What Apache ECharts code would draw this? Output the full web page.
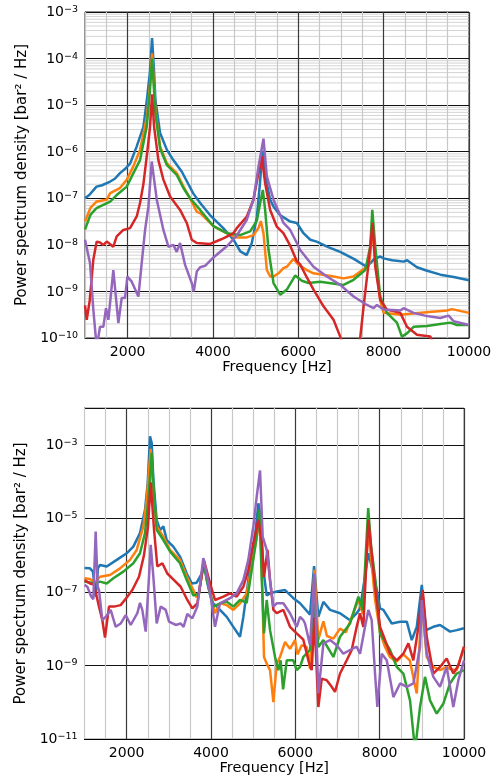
<!DOCTYPE html>
<html>
<head>
<meta charset="utf-8">
<script src="https://cdn.jsdelivr.net/npm/echarts@6/dist/echarts.min.js"></script>
<style>
  html, body { margin: 0; padding: 0; background: #fff; }
  #chart { width: 499px; height: 780px; }
</style>
</head>
<body>
<div id="chart"></div>
<script>
// Frequency tick labels (Hz) shown on both panels
const freqTickLabels = [2000, 4000, 6000, 8000, 10000];
// Decade exponents labelled on the PSD axes
const upperDecades = [-10, -9, -8, -7, -6, -5, -4, -3];
const lowerDecades = [-11, -9, -7, -5, -3];

// Upper panel: [frequency Hz, log10 PSD (bar²/Hz)]
const upperCh1 = [[1000,-7.0],[1100,-6.93],[1270,-6.75],[1400,-6.72],[1590,-6.64],[1700,-6.58],[1820,-6.46],[1950,-6.36],[2060,-6.25],[2210,-5.89],[2370,-5.46],[2450,-4.89],[2520,-4.3],[2572,-3.56],[2620,-4.3],[2650,-4.89],[2760,-5.6],[2920,-5.96],[3070,-6.18],[3270,-6.43],[3390,-6.64],[3540,-6.9],[3700,-7.1],[3930,-7.36],[4240,-7.64],[4480,-7.89],[4640,-8.14],[4790,-8.22],[4910,-7.96],[5030,-7.39],[5100,-6.68],[5160,-5.98],[5260,-6.68],[5340,-7.03],[5420,-7.18],[5570,-7.36],[5810,-7.5],[5965,-7.53],[6120,-7.75],[6280,-7.89],[6430,-7.93],[6700,-8.05],[6980,-8.15],[7300,-8.3],[7600,-8.47],[7700,-8.38],[7780,-8.3],[7920,-8.25],[8000,-8.29],[8200,-8.33],[8470,-8.36],[8550,-8.33],[8780,-8.48],[9000,-8.55],[9330,-8.64],[9640,-8.69],[10000,-8.76]];
const upperCh2 = [[1000,-7.5],[1130,-7.2],[1270,-7.07],[1510,-7.03],[1590,-6.89],[1820,-6.78],[1980,-6.6],[2130,-6.32],[2290,-5.96],[2450,-5.25],[2520,-4.6],[2572,-3.89],[2620,-4.6],[2650,-5.1],[2760,-5.89],[2920,-6.25],[3150,-6.46],[3310,-6.75],[3460,-7.0],[3620,-7.29],[3700,-7.32],[4010,-7.6],[4240,-7.71],[4480,-7.82],[4560,-7.84],[4790,-7.84],[4950,-7.79],[5066,-7.64],[5121,-7.49],[5183,-7.75],[5262,-8.54],[5340,-8.68],[5420,-8.68],[5535,-8.61],[5650,-8.5],[5731,-8.47],[5887,-8.3],[6004,-8.43],[6200,-8.54],[6356,-8.61],[6825,-8.68],[7060,-8.72],[7295,-8.68],[7530,-8.52],[7650,-8.45],[7700,-8.1],[7740,-7.6],[7800,-8.3],[7920,-9.2],[8000,-9.46],[8390,-9.5],[8937,-9.45],[9484,-9.41],[9600,-9.38],[10000,-9.46]];
const upperCh3 = [[1000,-7.67],[1130,-7.35],[1270,-7.21],[1590,-7.07],[1743,-6.93],[1978,-6.75],[2134,-6.46],[2290,-6.18],[2447,-5.46],[2520,-4.7],[2572,-4.0],[2620,-4.7],[2650,-5.17],[2760,-5.93],[2916,-6.28],[3150,-6.5],[3306,-6.78],[3463,-7.0],[3698,-7.25],[4010,-7.6],[4322,-7.75],[4636,-7.79],[4870,-7.71],[5028,-7.48],[5121,-7.03],[5168,-6.82],[5222,-7.25],[5300,-8.1],[5418,-8.82],[5574,-9.07],[5731,-8.96],[5926,-8.66],[6083,-8.77],[6239,-8.82],[6512,-8.79],[7060,-8.86],[7295,-8.75],[7569,-8.54],[7686,-8.04],[7733,-7.25],[7803,-8.04],[7920,-9.11],[8076,-9.46],[8311,-9.67],[8428,-9.97],[8546,-9.9],[8702,-9.76],[9014,-9.74],[9327,-9.7],[9562,-9.67],[9718,-9.72],[10000,-9.72]];
const upperCh4 = [[1000,-9.3],[1040,-9.61],[1110,-9.2],[1195,-8.32],[1274,-7.93],[1350,-7.95],[1430,-8.0],[1510,-7.93],[1664,-8.04],[1743,-7.82],[1899,-7.68],[2056,-7.64],[2212,-7.39],[2290,-7.1],[2368,-6.7],[2447,-6.1],[2525,-5.46],[2572,-4.77],[2619,-5.46],[2720,-6.18],[2837,-6.6],[2994,-6.96],[3228,-7.25],[3385,-7.53],[3502,-7.89],[3620,-7.96],[3932,-7.98],[4167,-7.89],[4244,-7.86],[4479,-7.75],[4557,-7.64],[4793,-7.39],[4948,-7.03],[5066,-6.46],[5144,-6.1],[5222,-6.68],[5340,-7.25],[5496,-7.61],[5650,-7.75],[5800,-8.0],[5965,-8.35],[6043,-8.42],[6200,-8.7],[6356,-8.96],[6590,-9.32],[6825,-9.61],[6982,-9.97],[7100,-10.3],[7400,-10.4],[7450,-10.0],[7530,-9.32],[7647,-8.39],[7741,-7.53],[7803,-8.47],[7920,-9.18],[8076,-9.39],[8390,-9.46],[8546,-9.76],[8780,-9.93],[9093,-9.97],[9250,-10.3]];
const upperCh5 = [[1000,-7.89],[1117,-8.39],[1195,-9.39],[1274,-10.2],[1352,-9.76],[1430,-9.76],[1493,-9.36],[1548,-9.61],[1664,-8.54],[1782,-9.68],[1860,-9.14],[1938,-9.14],[1993,-8.68],[2095,-8.79],[2251,-9.11],[2329,-8.39],[2408,-7.68],[2486,-7.18],[2564,-6.21],[2682,-7.03],[2837,-7.68],[2955,-8.04],[3071,-8.0],[3150,-8.15],[3228,-7.96],[3346,-8.43],[3502,-8.82],[3550,-9.0],[3620,-8.57],[3698,-8.48],[3815,-8.45],[4010,-8.27],[4324,-8.03],[4557,-7.8],[4793,-7.46],[4948,-7.03],[5066,-6.32],[5183,-5.72],[5262,-6.53],[5418,-7.03],[5574,-7.36],[5652,-7.53],[5809,-7.68],[5965,-7.96],[6043,-8.11],[6356,-8.47],[6669,-8.68],[6982,-8.86],[7295,-9.11],[7608,-9.29],[7764,-9.36],[7842,-9.29],[7998,-9.39],[8389,-9.41],[8467,-9.36],[8702,-9.46],[9014,-9.53],[9327,-9.57],[9523,-9.52],[9640,-9.64],[10000,-9.72]];

// Lower panel: [frequency Hz, log10 PSD (bar²/Hz)]
const lowerCh1 = [[1000,-6.35],[1130,-6.36],[1200,-6.45],[1265,-7.13],[1320,-6.35],[1368,-6.27],[1527,-6.31],[1764,-6.13],[2000,-5.95],[2158,-5.77],[2316,-5.4],[2435,-4.77],[2499,-4.04],[2554,-2.77],[2594,-2.95],[2633,-3.95],[2712,-5.04],[2791,-5.32],[2870,-5.22],[2950,-5.59],[3106,-5.77],[3265,-6.04],[3424,-6.5],[3543,-6.77],[3661,-6.75],[3780,-6.5],[3835,-6.2],[3898,-6.68],[3977,-7.08],[4055,-7.31],[4214,-7.49],[4373,-7.68],[4530,-7.95],[4688,-8.22],[4767,-7.68],[4885,-6.68],[4966,-5.95],[5044,-5.5],[5123,-4.59],[5180,-5.0],[5241,-6.4],[5321,-7.1],[5400,-7.04],[5559,-6.99],[5756,-6.95],[5953,-7.17],[6112,-7.31],[6349,-7.62],[6444,-6.3],[6546,-7.68],[6665,-7.27],[6823,-7.49],[7060,-7.58],[7297,-7.77],[7455,-7.58],[7534,-7.45],[7653,-6.58],[7732,-5.95],[7890,-6.68],[8009,-7.45],[8088,-7.49],[8287,-7.86],[8484,-7.81],[8643,-7.81],[8761,-8.31],[8880,-7.95],[8999,-6.81],[9100,-8.04],[9273,-7.95],[9433,-7.9],[9670,-8.08],[9828,-8.04],[10000,-7.99]];
const lowerCh2 = [[1000,-6.63],[1130,-6.65],[1249,-6.75],[1368,-6.59],[1605,-6.54],[1842,-6.36],[2079,-6.13],[2238,-5.86],[2395,-5.22],[2475,-4.5],[2570,-3.11],[2633,-4.31],[2712,-5.22],[2870,-5.5],[3028,-5.86],[3265,-6.13],[3424,-6.59],[3582,-6.95],[3661,-7.15],[3716,-7.0],[3835,-6.2],[3977,-7.04],[4095,-7.58],[4214,-7.31],[4373,-7.36],[4530,-7.49],[4688,-7.31],[4846,-7.04],[4966,-6.31],[5084,-5.5],[5163,-5.04],[5202,-6.3],[5257,-8.77],[5321,-8.95],[5400,-9.13],[5479,-10.0],[5559,-8.95],[5637,-8.77],[5756,-8.36],[5874,-8.55],[5993,-8.31],[6050,-8.7],[6152,-8.45],[6270,-8.5],[6349,-9.1],[6452,-6.4],[6546,-8.3],[6665,-7.8],[6750,-8.2],[6902,-8.27],[7060,-8.0],[7200,-8.1],[7400,-7.5],[7500,-7.2],[7600,-7.6],[7732,-5.3],[7890,-7.2],[8009,-8.1],[8128,-8.5],[8242,-8.77],[8400,-8.9],[8562,-8.7],[8713,-8.86],[8880,-9.76],[9000,-7.3],[9116,-8.77],[9273,-9.04],[9431,-9.13],[9590,-9.04],[9669,-9.1],[9827,-9.13],[10000,-8.5]];
const lowerCh3 = [[1000,-6.72],[1249,-6.77],[1368,-6.72],[1527,-6.77],[1684,-6.63],[1921,-6.45],[2158,-6.22],[2316,-5.95],[2435,-5.4],[2514,-4.5],[2594,-3.22],[2649,-4.41],[2712,-5.31],[2870,-5.59],[3028,-5.9],[3265,-6.22],[3424,-6.68],[3582,-7.1],[3716,-7.04],[3818,-6.22],[3950,-6.9],[4055,-7.4],[4214,-7.31],[4373,-7.27],[4530,-7.4],[4688,-7.22],[4846,-7.3],[4966,-6.4],[5084,-5.5],[5148,-4.77],[5202,-6.59],[5257,-8.13],[5321,-7.22],[5400,-8.04],[5519,-8.77],[5598,-9.13],[5650,-8.86],[5710,-9.65],[5796,-8.86],[5953,-8.86],[6032,-9.13],[6112,-9.04],[6190,-8.77],[6348,-8.58],[6452,-7.3],[6546,-8.5],[6665,-8.31],[6902,-8.77],[7060,-8.22],[7297,-7.86],[7495,-7.13],[7600,-7.5],[7728,-4.72],[7800,-5.8],[7890,-6.6],[8009,-8.13],[8246,-8.58],[8405,-9.04],[8562,-9.22],[8720,-9.95],[8839,-11.3],[8957,-10.13],[9076,-9.31],[9194,-9.95],[9352,-10.31],[9510,-10.04],[9668,-9.49],[9826,-9.22],[10000,-9.13]];
const lowerCh4 = [[1000,-6.68],[1130,-6.77],[1225,-6.8],[1344,-7.4],[1423,-7.77],[1486,-8.24],[1581,-7.4],[1700,-7.4],[1858,-7.36],[2015,-7.13],[2134,-6.95],[2293,-6.59],[2411,-6.0],[2506,-5.22],[2570,-4.02],[2649,-5.31],[2727,-6.31],[2846,-6.22],[2964,-6.5],[3123,-6.68],[3281,-6.86],[3439,-7.22],[3557,-7.45],[3676,-7.31],[3835,-6.15],[3977,-6.77],[4095,-7.22],[4293,-7.13],[4451,-7.04],[4609,-7.13],[4767,-6.86],[4885,-6.4],[5004,-5.68],[5123,-5.04],[5202,-5.59],[5257,-6.59],[5340,-5.86],[5400,-6.68],[5479,-7.49],[5559,-7.58],[5716,-7.49],[5874,-7.95],[6032,-8.13],[6190,-8.3],[6309,-8.86],[6388,-9.13],[6452,-7.7],[6546,-10.13],[6626,-9.36],[6744,-9.4],[6862,-9.58],[6941,-9.72],[7060,-9.22],[7219,-8.86],[7337,-8.58],[7455,-7.95],[7534,-7.58],[7613,-7.95],[7732,-5.04],[7890,-6.86],[8009,-7.95],[8128,-8.31],[8246,-8.68],[8404,-8.86],[8562,-8.68],[8681,-8.4],[8799,-8.86],[8918,-7.95],[9021,-6.95],[9116,-8.22],[9273,-9.22],[9431,-9.04],[9589,-8.81],[9747,-9.22],[9866,-9.0],[10000,-8.49]];
const lowerCh5 = [[1000,-6.81],[1067,-6.86],[1161,-7.13],[1209,-7.2],[1265,-5.36],[1313,-6.86],[1344,-6.95],[1423,-7.77],[1502,-7.68],[1621,-7.49],[1740,-7.95],[1858,-7.86],[1977,-7.63],[2096,-7.9],[2253,-7.58],[2316,-7.3],[2371,-7.49],[2451,-8.08],[2530,-6.59],[2570,-5.72],[2633,-6.59],[2712,-7.86],[2807,-7.4],[2926,-7.49],[3004,-7.81],[3163,-7.9],[3281,-7.86],[3350,-7.95],[3439,-7.6],[3557,-7.72],[3676,-7.4],[3818,-6.08],[3913,-6.59],[3993,-7.13],[4095,-7.95],[4214,-7.31],[4451,-7.17],[4609,-7.04],[4767,-6.68],[4885,-6.13],[5004,-5.22],[5084,-4.41],[5163,-3.7],[5226,-5.5],[5321,-5.86],[5400,-6.68],[5479,-7.4],[5558,-7.31],[5716,-7.31],[5874,-7.58],[6032,-7.95],[6112,-7.68],[6190,-7.77],[6230,-7.86],[6349,-8.45],[6452,-6.5],[6546,-9.76],[6665,-8.4],[6823,-8.31],[6981,-8.45],[7139,-8.68],[7297,-8.58],[7455,-8.49],[7534,-8.68],[7653,-7.95],[7732,-7.49],[7811,-7.77],[7890,-9.22],[7945,-10.13],[8049,-8.68],[8168,-8.86],[8325,-9.86],[8484,-9.49],[8643,-9.58],[8800,-9.49],[8958,-8.49],[8997,-7.22],[9116,-8.68],[9273,-9.31],[9431,-9.58],[9590,-9.04],[9747,-10.13],[9866,-9.4],[10000,-8.86]];

const palette = ['#1f77b4', '#ff7f0e', '#2ca02c', '#d62728', '#9467bd'];
const FONT = 'DejaVu Sans';

const toPsd = pts => pts.map(([f, lg]) => [f, Math.pow(10, lg)]);

function decadeLabel(shown) {
  return value => {
    const e = Math.round(Math.log10(value));
    if (!shown.includes(e)) return '';
    return '{b|10}{s|\u2212' + Math.abs(e) + '}';
  };
}
const decadeRich = {
  b: { fontSize: 14, fontFamily: FONT, color: '#000', verticalAlign: 'bottom', lineHeight: 15 },
  s: { fontSize: 9.5, fontFamily: FONT, color: '#000', verticalAlign: 'top', lineHeight: 10 }
};

function freqAxis(gridIndex, lineColor) {
  return {
    type: 'value', gridIndex, min: 1000, max: 10000, interval: 1000, z: 2,
    name: 'Frequency [Hz]', nameLocation: 'middle', nameGap: 22,
    nameTextStyle: { fontSize: 14.5, fontFamily: FONT, color: '#000' },
    axisLine: { show: true, onZero: false, lineStyle: { color: lineColor, width: 1 } },
    axisTick: { show: false },
    axisLabel: {
      fontSize: 14, fontFamily: FONT, color: '#000', margin: 7,
      formatter: v => (freqTickLabels.includes(v) ? String(v) : '')
    },
    splitLine: { show: true, lineStyle: { color: ['#c8c8c8', '#3a3a3a'], width: 1.2 } },
    minorTick: { show: false, splitNumber: 2 },
    minorSplitLine: { show: true, lineStyle: { color: '#c8c8c8', width: 1.2 } }
  };
}

function psdAxis(gridIndex, min, max, shown, lineColors, spineColor) {
  return {
    type: 'log', logBase: 10, gridIndex, min, max,
    name: 'Power spectrum density [bar\u00b2 / Hz]', nameLocation: 'middle', nameGap: 53,
    nameTextStyle: { fontSize: 15, fontFamily: FONT, color: '#000' },
    axisLine: { show: true, onZero: false, lineStyle: { color: spineColor, width: 1 } },
    axisTick: { show: false },
    axisLabel: {
      margin: 7, showMinLabel: true, showMaxLabel: true,
      formatter: decadeLabel(shown), rich: decadeRich
    },
    splitLine: { show: true, lineStyle: { color: lineColors, width: 1 } }
  };
}

const series = [];

// Minor log gridlines (2..9 × each decade) across the upper panel, beneath the curves
for (let e = -10; e <= -4; e++) {
  for (let m = 2; m <= 9; m++) {
    const level = m * Math.pow(10, e);
    series.push({
      type: 'line', xAxisIndex: 0, yAxisIndex: 0, silent: true, z: 1,
      data: [[1000, level], [10000, level]], showSymbol: false, symbol: 'none',
      lineStyle: { color: '#d4d4d4', width: 1 }, tooltip: { show: false }
    });
  }
}

[upperCh1, upperCh2, upperCh3, upperCh4, upperCh5].forEach((pts, i) => {
  series.push({
    name: 'channel ' + (i + 1), type: 'line', xAxisIndex: 0, yAxisIndex: 0,
    data: toPsd(pts), showSymbol: false, symbol: 'none', smooth: false,
    lineStyle: { color: palette[i], width: 2.5 }, z: 3 + i
  });
});
[lowerCh1, lowerCh2, lowerCh3, lowerCh4, lowerCh5].forEach((pts, i) => {
  series.push({
    name: 'channel ' + (i + 1), type: 'line', xAxisIndex: 1, yAxisIndex: 1,
    data: toPsd(pts), showSymbol: false, symbol: 'none', smooth: false,
    lineStyle: { color: palette[i], width: 2.5 }, z: 3 + i
  });
});

const chart = echarts.init(document.getElementById('chart'), null, { renderer: 'canvas' });
chart.setOption({
  animation: false,
  backgroundColor: '#fff',
  grid: [
    { left: 85, top: 12, width: 384, height: 326, show: true, borderColor: '#222', borderWidth: 1, backgroundColor: 'transparent' },
    { left: 84.5, top: 408, width: 379.5, height: 331, show: true, borderColor: '#888', borderWidth: 1, backgroundColor: 'transparent' }
  ],
  xAxis: [freqAxis(0, '#222'), freqAxis(1, '#000')],
  yAxis: [
    psdAxis(0, 1e-10, 1e-3, upperDecades, ['#111'], '#222'),
    psdAxis(1, 1e-11, 1e-2, lowerDecades, ['#111', 'rgba(0,0,0,0)'], '#444')
  ],
  series
});
</script>
</body>
</html>
